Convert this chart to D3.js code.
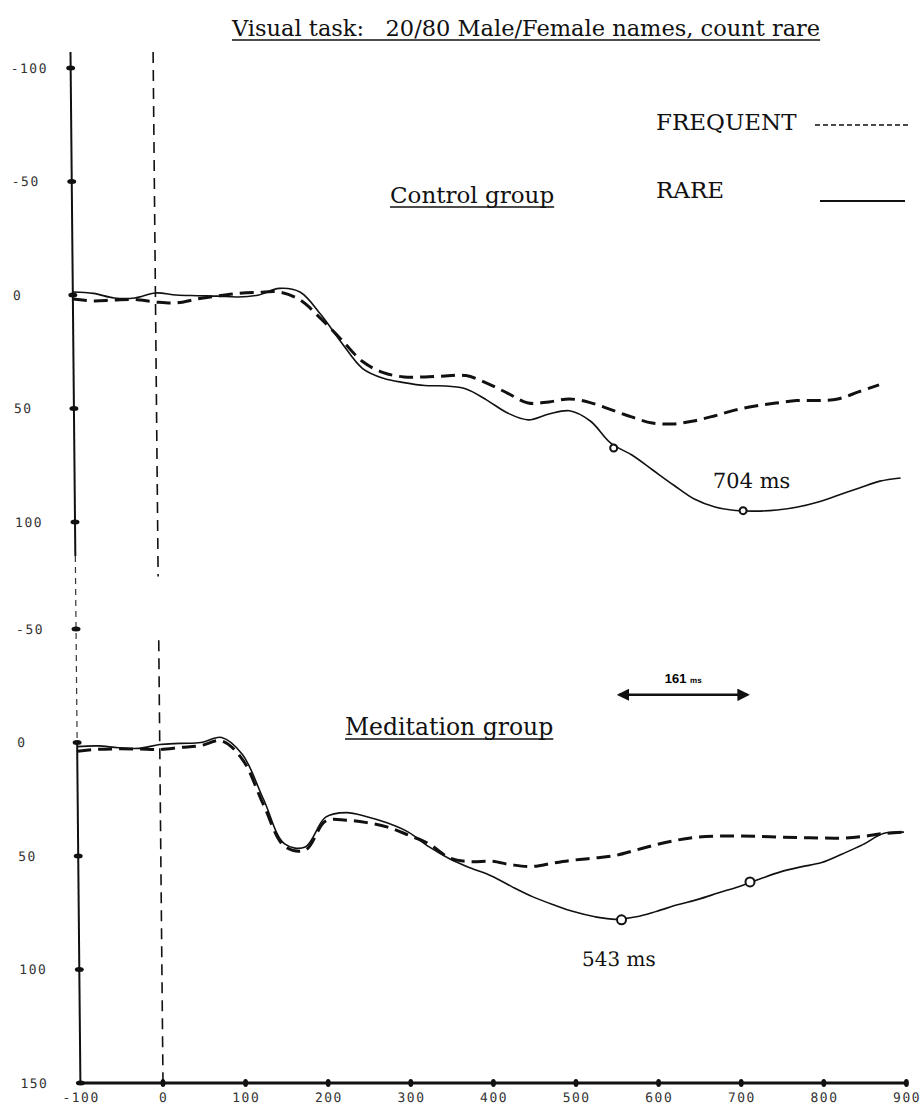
<!DOCTYPE html>
<html>
<head>
<meta charset="utf-8">
<script src="https://cdn.jsdelivr.net/npm/d3@7"></script>
<style>
  body { margin: 0; background: #fff; }
  svg { display: block; }
  .lbl { font-family: "DejaVu Serif", "Liberation Serif", serif; fill: #111; white-space: pre; }
  .tick-lbl { font-family: "DejaVu Sans Mono", monospace; font-size: 13px; fill: #333; letter-spacing: 1.5px; }
</style>
</head>
<body>
<svg id="chart"></svg>
<script>
// time grid (ms) shared by all four waveforms
var times = [-100, -75, -50, -25, 0, 25, 50, 75, 100, 125, 150, 175, 200, 225, 250, 275, 300, 325, 350, 375,
    400, 425, 450, 475, 500, 525, 550, 575, 600, 625, 650, 675, 700, 725, 750, 775, 800, 825, 850, 875, 900];

// Control group (positive = down)
var controlRare = [-1.3, -0.7, 1.3, 1.3, -0.9, 0, 0.3, 0.5, 0.9, 0, -2.9, -1.3, 8.6, 21.1, 32.4, 36.7, 38.6, 39.9, 40.1, 41.4,
    46.3, 52, 55, 52.4, 51, 55.5, 65.4, 70.5, 77.1, 83.7, 89.9, 93.4, 94.9, 95.2, 94.7, 93.4, 91.2, 88.1, 85, 82, 80.6];
var controlFreq = [1.8, 2.6, 2.2, 2, 3.1, 3.5, 1.8, 0.4, -0.7, -1.2, -1.3, 2.2, 10.4, 19.8, 29.3, 34.2, 36.1, 36.1, 35.7, 35.5,
    38.8, 43.2, 47.6, 47.1, 45.8, 47.4, 50.5, 53.7, 56.4, 56.8, 55.5, 53.3, 50.7, 48.9, 47.6, 46.5, 46.5, 45.8, 42.7, 39.6, null];

// Meditation group
var medRare = [1.8, 1.5, 2.3, 2.6, 0.9, 0.4, 0, -2.2, 5.3, 25, 44.7, 46, 32.9, 30.9, 32.7, 35.5, 39.5, 46, 51.3, 55.3,
    58.8, 63.6, 68, 71.5, 74.6, 76.8, 77.9, 76.8, 74.3, 71.5, 69.1, 66.2, 63.4, 60.1, 57, 54.8, 52.9, 49.1, 45, 40.1, 39.5];
var medFreq = [3.9, 3, 2.8, 2.9, 3.1, 2.2, 1.3, -0.7, 7.5, 27.5, 45.8, 47.4, 34.6, 34.2, 35.3, 37.3, 40.8, 44.7, 50.9, 52.5,
    52.3, 53.9, 54.6, 53.1, 51.8, 50.9, 49.8, 47.4, 45, 43, 41.7, 41.2, 41.2, 41.4, 41.7, 41.9, 42.1, 42.1, 41.4, 40.1, 39.5];

// marked points on the rare curves
var controlMarks = [{t: 553, v: 67.4}, {t: 709, v: 95}];
var medMarks = [{t: 557, v: 78.1}, {t: 713, v: 61.4}];
var latencyArrow = [557, 712];

// ticks
var topTicks = [-100, -50, 0, 50, 100];
var topTickLabels = ['-100', '-50', '0', '50', '100'];
var botTicks = [-50, 0, 50, 100, 150];
var botTickLabels = ['-50', '0', '50', '100', '150'];
var xTicks = [-100, 0, 100, 200, 300, 400, 500, 600, 700, 800, 900];
var xTickLabels = ['-100', '0', '100', '200', '300', '400', '500', '600', '700', '800', '900'];

var width = 921, height = 1107;

var svg = d3.select('#chart')
    .attr('width', width)
    .attr('height', height);
svg.append('rect').attr('width', width).attr('height', height).attr('fill', '#fff');

// the scanned figure leans a little, a small skew reproduces it
var g = svg.append('g').attr('transform', 'skewX(0.55)');

var x = d3.scaleLinear().domain([-100, 900]).range([70, 896]);
var yTop = d3.scaleLinear().domain([-100, 100]).range([68, 522]);
var yBot = d3.scaleLinear().domain([-50, 150]).range([629, 1083]);

// Y axes
var x0 = x(-100);
g.append('line')
    .attr('x1', x0).attr('x2', x0)
    .attr('y1', yTop(-107)).attr('y2', yTop(115))
    .attr('stroke', '#111').attr('stroke-width', 2);
g.append('line')
    .attr('x1', x0).attr('x2', x0)
    .attr('y1', yTop(115)).attr('y2', yBot(0))
    .attr('stroke', '#333').attr('stroke-width', 1.2)
    .attr('stroke-dasharray', '6,5');
g.append('line')
    .attr('x1', x0).attr('x2', x0)
    .attr('y1', yBot(0)).attr('y2', yBot(150))
    .attr('stroke', '#111').attr('stroke-width', 2);

function yTicks(scale, values, labels) {
    var tk = g.append('g');
    tk.selectAll('ellipse')
        .data(values)
        .enter().append('ellipse')
        .attr('cx', x0).attr('cy', d => scale(d))
        .attr('rx', 4.5).attr('ry', 2.5)
        .attr('fill', '#111');
    tk.selectAll('text')
        .data(values)
        .enter().append('text')
        .attr('class', 'tick-lbl')
        .attr('x', 10)
        .attr('y', d => scale(d))
        .attr('dy', '0.35em')
        .text((d, i) => labels[i]);
}
yTicks(yTop, topTicks, topTickLabels);
yTicks(yBot, botTicks, botTickLabels);

// X axis
var xAxis = g.append('g')
    .attr('transform', `translate(0, ${yBot(150)})`)
    .call(d3.axisBottom(x).tickValues(xTicks).tickSize(0).tickPadding(10)
        .tickFormat((d, i) => xTickLabels[i]));
xAxis.select('.domain').remove();
xAxis.selectAll('text').attr('class', 'tick-lbl').attr('fill', null);
xAxis.append('line')
    .attr('x1', x(-100)).attr('x2', x(900))
    .attr('stroke', '#111').attr('stroke-width', 3);
xAxis.selectAll('ellipse.xt')
    .data(xTicks.slice(1))
    .enter().append('ellipse')
    .attr('class', 'xt')
    .attr('cx', d => x(d)).attr('cy', 0)
    .attr('rx', 2.5).attr('ry', 4)
    .attr('fill', '#111');

// stimulus onset line
[[yTop(-107), yTop(124)], [yBot(-45), yBot(150)]].forEach(function (seg) {
    g.append('line')
        .attr('x1', x(0)).attr('x2', x(0))
        .attr('y1', seg[0]).attr('y2', seg[1])
        .attr('stroke', '#111').attr('stroke-width', 1.6)
        .attr('stroke-dasharray', '11,7');
});

// waveforms
function series(vals) {
    return times.map((t, i) => ({t: t, v: vals[i]}));
}
function drawWave(scale, vals, dashed) {
    var line = d3.line()
        .defined(d => d.v != null)
        .x(d => x(d.t))
        .y(d => scale(d.v))
        .curve(d3.curveCatmullRom.alpha(0.5));
    g.append('path')
        .attr('d', line(series(vals)))
        .attr('fill', 'none')
        .attr('stroke', '#111')
        .attr('stroke-width', dashed ? 3 : 1.6)
        .attr('stroke-dasharray', dashed ? '14,7' : null);
}
drawWave(yTop, controlRare, false);
drawWave(yTop, controlFreq, true);
drawWave(yBot, medRare, false);
drawWave(yBot, medFreq, true);

function drawMarks(scale, marks, r) {
    g.selectAll(null)
        .data(marks)
        .enter().append('circle')
        .attr('cx', d => x(d.t)).attr('cy', d => scale(d.v))
        .attr('r', r)
        .attr('fill', '#fff').attr('stroke', '#111').attr('stroke-width', 2);
}
drawMarks(yTop, controlMarks, 3.5);
drawMarks(yBot, medMarks, 4.5);

// peak latency labels
g.append('text').attr('class', 'lbl')
    .attr('x', x(controlMarks[1].t) - 30).attr('y', yTop(controlMarks[1].v) - 23)
    .style('font-size', '21px')
    .text('704 ms');
g.append('text').attr('class', 'lbl')
    .attr('x', x(medMarks[0].t) - 40).attr('y', yBot(medMarks[0].v) + 46)
    .style('font-size', '20px')
    .text('543 ms');

// latency difference arrow
var arrowY = yBot(-21);
svg.append('defs').selectAll('marker')
    .data(['head'])
    .enter().append('marker')
    .attr('id', 'head')
    .attr('viewBox', '0 0 10 10').attr('refX', 8).attr('refY', 5)
    .attr('markerWidth', 5).attr('markerHeight', 5)
    .attr('orient', 'auto-start-reverse')
    .append('path').attr('d', 'M0,0L10,5L0,10z').attr('fill', '#111');
g.append('line')
    .attr('x1', x(latencyArrow[0])).attr('x2', x(latencyArrow[1]))
    .attr('y1', arrowY).attr('y2', arrowY)
    .attr('stroke', '#111').attr('stroke-width', 2.5)
    .attr('marker-start', 'url(#head)').attr('marker-end', 'url(#head)');
var arrowLbl = g.append('text')
    .attr('x', (x(latencyArrow[0]) + x(latencyArrow[1])) / 2)
    .attr('y', arrowY - 12)
    .attr('text-anchor', 'middle')
    .style('font-family', '"Liberation Sans", sans-serif')
    .style('font-weight', 'bold')
    .style('font-size', '13px');
arrowLbl.append('tspan').text('161 ');
arrowLbl.append('tspan').style('font-size', '8px').text('ms');

// titles and group labels, underlined
function underlined(txt, xPos, yPos, size) {
    var t = svg.append('text').attr('class', 'lbl')
        .attr('x', xPos).attr('y', yPos)
        .style('font-size', size + 'px')
        .text(txt);
    var w = t.node().getComputedTextLength();
    svg.append('line')
        .attr('x1', xPos).attr('x2', xPos + w)
        .attr('y1', yPos + 4).attr('y2', yPos + 4)
        .attr('stroke', '#111').attr('stroke-width', 1.5);
}
underlined('Visual task:   20/80 Male/Female names, count rare', 232, 36, 22.5);
underlined('Control group', 390, 203, 23);
underlined('Meditation group', 345, 735, 23.5);

// legend
var legend = svg.append('g');
legend.append('text').attr('class', 'lbl')
    .attr('x', 656).attr('y', 130)
    .style('font-size', '23px')
    .text('FREQUENT');
legend.append('line')
    .attr('x1', 815).attr('x2', 910).attr('y1', 125).attr('y2', 125)
    .attr('stroke', '#111').attr('stroke-width', 1.5)
    .attr('stroke-dasharray', '5,3');
legend.append('text').attr('class', 'lbl')
    .attr('x', 656).attr('y', 198)
    .style('font-size', '23px')
    .text('RARE');
legend.append('line')
    .attr('x1', 820).attr('x2', 905).attr('y1', 201).attr('y2', 201)
    .attr('stroke', '#111').attr('stroke-width', 1.8);
</script>
</body>
</html>
